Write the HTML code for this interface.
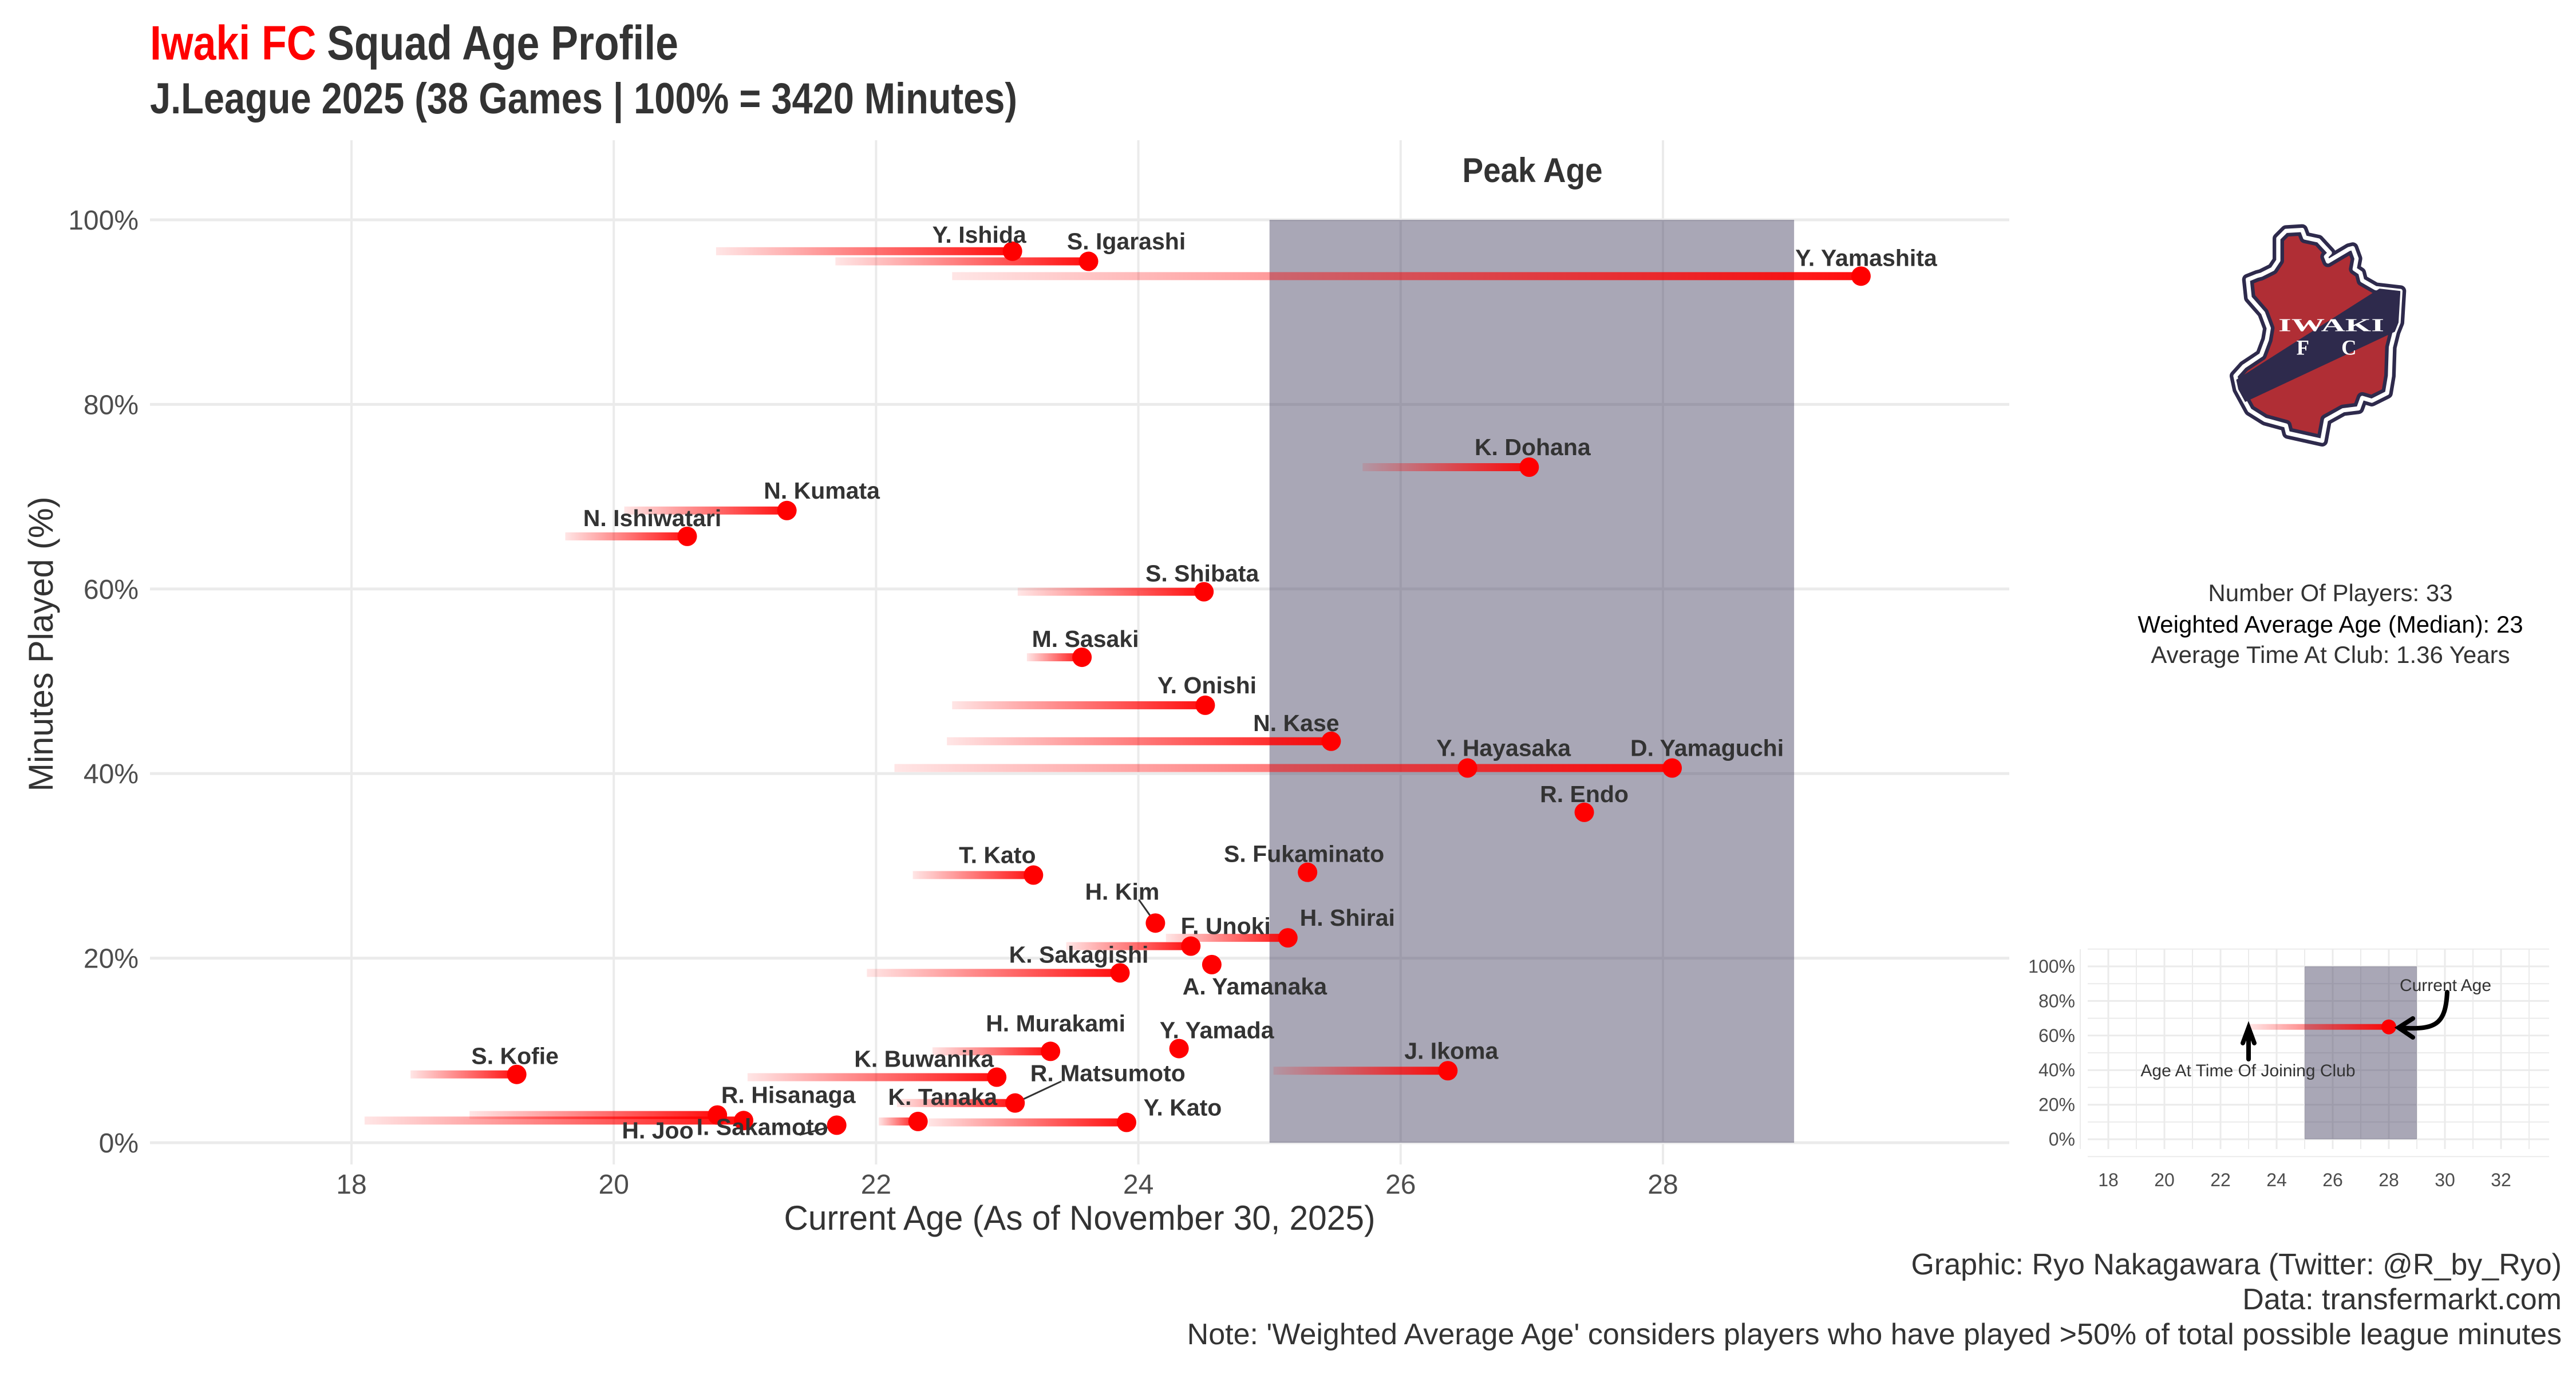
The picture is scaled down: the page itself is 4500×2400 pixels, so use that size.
<!DOCTYPE html>
<html><head><meta charset="utf-8"><style>
html,body{margin:0;padding:0;background:#fff;}
svg{display:block;}
.nar{font-family:"Liberation Sans Narrow","Liberation Sans",sans-serif;}
.lab{font-family:"Liberation Sans",sans-serif;font-weight:bold;font-size:41px;fill:#333;}
</style></head><body>
<svg id="chart" width="4500" height="2400" viewBox="0 0 4500 2400" xmlns="http://www.w3.org/2000/svg">
<defs>
<linearGradient id="fade" x1="0" y1="0" x2="1" y2="0">
<stop offset="0" stop-color="#ff0000" stop-opacity="0.1"/>
<stop offset="1" stop-color="#ff0000" stop-opacity="0.95"/>
</linearGradient>
</defs>
<text class="nar" x="262" y="104" font-size="84" font-weight="bold" textLength="923" lengthAdjust="spacingAndGlyphs"><tspan fill="#ff0000">Iwaki FC</tspan><tspan fill="#333" dx="22">Squad Age Profile</tspan></text>
<text class="nar" x="262" y="198" font-size="76" font-weight="bold" fill="#333" textLength="1515" lengthAdjust="spacingAndGlyphs">J.League 2025 (38 Games | 100% = 3420 Minutes)</text>
<g id="main"></g>
<g id="inset"></g>
<g transform="translate(3850,380) scale(0.3333)">
<clipPath id="lc"><polygon points="430,70 515,65 530,105 600,120 660,185 640,205 650,230 760,165 780,160 800,215 790,270 820,290 830,330 900,370 1030,385 1020,550 1000,600 980,680 975,830 960,920 880,960 830,945 810,1000 730,1010 640,1060 620,1170 440,1130 430,1090 320,1060 240,1010 180,900 165,830 210,780 300,720 330,640 340,580 310,500 240,420 230,325 280,305 300,300 360,270 390,225 390,110"/></clipPath>
<polygon points="430,70 515,65 530,105 600,120 660,185 640,205 650,230 760,165 780,160 800,215 790,270 820,290 830,330 900,370 1030,385 1020,550 1000,600 980,680 975,830 960,920 880,960 830,945 810,1000 730,1010 640,1060 620,1170 440,1130 430,1090 320,1060 240,1010 180,900 165,830 210,780 300,720 330,640 340,580 310,500 240,420 230,325 280,305 300,300 360,270 390,225 390,110" fill="#b02e35" stroke="#2e2a4c" stroke-width="60" stroke-linejoin="round"/>
<polygon points="430,70 515,65 530,105 600,120 660,185 640,205 650,230 760,165 780,160 800,215 790,270 820,290 830,330 900,370 1030,385 1020,550 1000,600 980,680 975,830 960,920 880,960 830,945 810,1000 730,1010 640,1060 620,1170 440,1130 430,1090 320,1060 240,1010 180,900 165,830 210,780 300,720 330,640 340,580 310,500 240,420 230,325 280,305 300,300 360,270 390,225 390,110" fill="none" stroke="#fff" stroke-width="22" stroke-linejoin="round"/>
<g clip-path="url(#lc)"><polygon points="100,894 1100,258 1100,552 100,1021" fill="#2e2a4c"/></g>
<text x="390" y="595" font-family="Liberation Serif,serif" font-weight="bold" font-size="95" fill="#fff" textLength="555" lengthAdjust="spacingAndGlyphs">IWAKI</text>
<text x="485" y="718" font-family="Liberation Serif,serif" font-weight="bold" font-size="110" fill="#fff" textLength="315" lengthAdjust="spacing">FC</text>
</g>
<g class="nar" font-size="42" fill="#333" text-anchor="middle">
<text x="4071" y="1050">Number Of Players: 33</text>
<text x="4071" y="1105" fill="#000">Weighted Average Age (Median): 23</text>
<text x="4071" y="1158">Average Time At Club: 1.36 Years</text>
</g>
<g class="nar" font-size="52" fill="#333" text-anchor="end">
<text x="4475" y="2226">Graphic: Ryo Nakagawara (Twitter: @R_by_Ryo)</text>
<text x="4475" y="2287">Data: transfermarkt.com</text>
<text x="4475" y="2348">Note: 'Weighted Average Age' considers players who have played &gt;50% of total possible league minutes</text>
</g>
</svg>
<script>
const players=["Y. Ishida","S. Igarashi","Y. Yamashita","K. Dohana","N. Kumata","N. Ishiwatari","S. Shibata","M. Sasaki","Y. Onishi","N. Kase","Y. Hayasaka","D. Yamaguchi","R. Endo","S. Fukaminato","T. Kato","H. Kim","F. Unoki","H. Shirai","K. Sakagishi","A. Yamanaka","H. Murakami","Y. Yamada","J. Ikoma","S. Kofie","K. Buwanika","R. Matsumoto","K. Tanaka","Y. Kato","R. Hisanaga","H. Joo","I. Sakamoto"];
const ages=[23.04,23.62,29.51,26.98,21.32,20.56,24.5,23.57,24.51,25.47,26.51,28.07,27.4,25.29,23.2,24.13,24.4,25.14,23.86,24.56,23.33,24.31,26.36,19.26,22.92,23.06,22.32,23.91,20.79,20.99,21.7];
const minutesPct=[96.6,95.5,93.9,73.2,68.5,65.7,59.7,52.6,47.4,43.5,40.6,40.6,35.8,29.3,29.0,23.8,21.3,22.2,18.4,19.3,9.9,10.2,7.8,7.4,7.1,4.3,2.3,2.2,3.0,2.4,1.9];
const joinAges=[20.78,21.69,22.58,25.71,20.08,19.63,23.08,23.15,22.58,22.54,null,22.14,null,null,22.28,null,23.45,24.21,21.93,null,22.43,null,25.03,18.45,21.02,22.16,22.02,22.4,18.9,18.1,null];
const xTicks=[18,20,22,24,26,28];
const yTicks=[0,20,40,60,80,100];
const peakAge=[25,29];
const insetXTicks=[18,20,22,24,26,28,30,32];
const insetYTicks=[0,20,40,60,80,100];
const insetExample={join:23,age:28,pct:65};
// label offsets (layout, px)
const labelDx=[-58,66,9,6,61,-61,-3,6,3,-61,63,61,0,-6,-63,-58,61,104,-72,75,9,66,6,-3,-127,162,43,98,124,-150,-130];
const labelDy=[-29,-35,-32,-35,-35,-32,-32,-32,-35,-32,-35,-35,-32,-32,-35,-55,-35,-35,-32,38,-49,-32,-35,-32,-32,-52,-43,-26,-35,17,3];
const leader=[15,25,30];

const NS="http://www.w3.org/2000/svg";
function mk(tag,attrs,parent){const e=document.createElementNS(NS,tag);for(const k in attrs)e.setAttribute(k,attrs[k]);parent.appendChild(e);return e;}
const X=a=>614+(a-18)*229.1;
const Y=p=>1996-p*16.12;
const main=document.getElementById('main');
const L=262,R=3510,T=245,B=2034;
for(const t of xTicks){const g=mk('line',{x1:X(t),x2:X(t),y1:T,y2:B,stroke:'#ebebeb','stroke-width':4},main);

const tl=mk('text',{x:X(t),y:2085,'text-anchor':'middle','font-size':48,fill:'#4d4d4d',class:'nar'},main);tl.textContent=t;
}
for(const t of yTicks){const g=mk('line',{x1:L,x2:R,y1:Y(t),y2:Y(t),stroke:'#ebebeb','stroke-width':5},main);

const tl=mk('text',{x:242,y:Y(t)+17,'text-anchor':'end','font-size':48,fill:'#4d4d4d',class:'nar'},main);tl.textContent=t+'%';
}
const band=mk('rect',{x:X(peakAge[0]),y:Y(100),width:X(peakAge[1])-X(peakAge[0]),height:Y(0)-Y(100),fill:'#3b3658','fill-opacity':0.44},main);

const pk=mk('text',{x:2677,y:318,'text-anchor':'middle','font-size':60,'font-weight':'bold',fill:'#333',class:'nar',textLength:245,lengthAdjust:'spacingAndGlyphs'},main);pk.textContent='Peak Age';

const xt=mk('text',{x:1886,y:2148,'text-anchor':'middle','font-size':60,fill:'#333',class:'nar',textLength:1033,lengthAdjust:'spacingAndGlyphs'},main);xt.textContent='Current Age (As of November 30, 2025)';

const yt=mk('text',{x:0,y:0,'text-anchor':'middle','font-size':60,fill:'#333',class:'nar',transform:'translate(92,1125) rotate(-90)',textLength:515,lengthAdjust:'spacingAndGlyphs'},main);yt.textContent='Minutes Played (%)';

players.forEach((p,i)=>{if(joinAges[i]==null)return;
const r=mk('rect',{x:X(joinAges[i]),y:Y(minutesPct[i])-7,width:X(ages[i])-X(joinAges[i]),height:14,fill:'url(#fade)'},main);
});
leader.forEach(i=>{const l=mk('line',{x1:X(ages[i])+labelDx[i]*0.5,y1:Y(minutesPct[i])+labelDy[i]+14,x2:X(ages[i]),y2:Y(minutesPct[i]),stroke:'#333','stroke-width':3},main);
});
players.forEach((p,i)=>{const c=mk('circle',{cx:X(ages[i]),cy:Y(minutesPct[i]),r:17,fill:'#ff0000'},main);
});
players.forEach((p,i)=>{const t=mk('text',{x:X(ages[i])+labelDx[i],y:Y(minutesPct[i])+labelDy[i]+14,'text-anchor':'middle',class:'lab'},main);t.textContent=p;
});

const ins=document.getElementById('inset');
const IX=a=>3683+(a-18)*49;
const IY=p=>1990-p*3.02;
for(let a=17;a<=33;a++){const l=mk('line',{x1:IX(a),x2:IX(a),y1:1658,y2:2007,stroke:'#ebebeb','stroke-width':a%2?2:3},ins);
}
for(let p=-10;p<=110;p+=10){const l=mk('line',{x1:3647,x2:4453,y1:IY(p),y2:IY(p),stroke:'#ebebeb','stroke-width':p%20?2:3},ins);
}
const ib=mk('rect',{x:IX(peakAge[0]),y:IY(100),width:IX(peakAge[1])-IX(peakAge[0]),height:IY(0)-IY(100),fill:'#3b3658','fill-opacity':0.44},ins);

insetXTicks.forEach(t=>{const e=mk('text',{x:IX(t),y:2072,'text-anchor':'middle','font-size':32,fill:'#4d4d4d',class:'nar'},ins);e.textContent=t;
});
insetYTicks.forEach(t=>{const e=mk('text',{x:3625,y:IY(t)+11,'text-anchor':'end','font-size':32,fill:'#4d4d4d',class:'nar'},ins);e.textContent=t+'%';
});
const il=mk('rect',{x:IX(insetExample.join),y:IY(insetExample.pct)-5,width:IX(insetExample.age)-IX(insetExample.join),height:10,fill:'url(#fade)'},ins);

const idt=mk('circle',{cx:IX(insetExample.age),cy:IY(insetExample.pct),r:13,fill:'#ff0000'},ins);

const a1=mk('path',{d:`M${IX(23)},1850 L${IX(23)},1795 M${IX(23)-10},1822 L${IX(23)},1795 L${IX(23)+10},1822`,stroke:'#000','stroke-width':8,fill:'none','stroke-linecap':'round'},ins);

const a2=mk('path',{d:'M4275,1733 C4272,1790 4255,1800 4190,1795 M4215,1779 L4190,1795 L4215,1812',stroke:'#000','stroke-width':8,fill:'none','stroke-linecap':'round'},ins);

const t1=mk('text',{x:4272,y:1731,'text-anchor':'middle','font-size':30,fill:'#333',class:'nar'},ins);t1.textContent='Current Age';

const t2=mk('text',{x:3927,y:1880,'text-anchor':'middle','font-size':30,fill:'#333',class:'nar'},ins);t2.textContent='Age At Time Of Joining Club';

</script>
</body></html>
